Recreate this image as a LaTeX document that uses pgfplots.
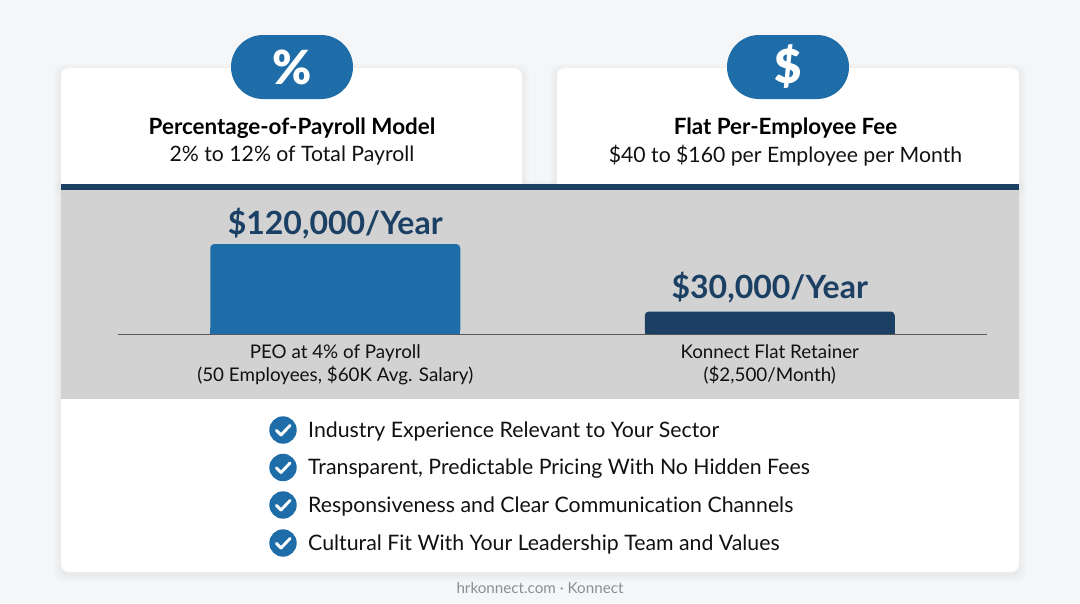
\documentclass[border=0pt]{standalone}
\usepackage{fontspec}
\setmainfont{Lato}[Ligatures=NoCommon]
\usepackage{pgfplots}
\pgfplotsset{compat=1.18}
\definecolor{bgc}{HTML}{F5F6F7}
\definecolor{bandc}{HTML}{D2D2D3}
\definecolor{navy}{HTML}{1B4063}
\definecolor{blue1}{HTML}{1F6DA8}
\definecolor{ink}{HTML}{111111}
\definecolor{foot}{HTML}{8A8E92}
\newcommand{\fs}[1]{\fontsize{#1pt}{#1pt}\selectfont}
\newcommand{\softshadow}[5]{%
  \foreach \g in {7,5,3,1}{\fill[black,opacity=0.012,rounded corners=#5pt] (#1-\g,#2-\g+3) rectangle (#3+\g,#4+\g+3);}}
\newcommand{\checkitem}[2]{%
  \fill[blue1] (283,#1) circle (13.7);
  \draw[white,line width=2.9pt,line cap=round,line join=round] (276.5,#1+0.5) -- (281,#1+5) -- (290,#1-4.5);
  \node[anchor=west,inner sep=0pt,text=ink,font=\fs{21.3}] at (308,#1+1.5) {#2};}
\begin{document}
\begin{tikzpicture}[x=1pt,y=-1pt]
\path[use as bounding box,fill=bgc] (0,0) rectangle (1080,603);
\softshadow{61}{68}{522}{186}{8}
\softshadow{557}{68}{1019}{186}{8}
\softshadow{61}{184}{1019}{572}{8}
\fill[white,rounded corners=8pt] (61,68) rectangle (522,200);
\fill[white,rounded corners=8pt] (557,68) rectangle (1019,200);
\fill[white,rounded corners=8pt] (61,380) rectangle (1019,572);
\fill[bandc] (61,190) rectangle (1019,399);
\fill[navy] (61,184) rectangle (1019,190);
\fill[blue1,rounded corners=32pt] (231,35) rectangle (353,99);
\fill[blue1,rounded corners=32pt] (727,35) rectangle (849,99);
\node[text=white,font=\fontspec{Lato Black}\fs{47}] at (292,67) {\%};
\node[text=white,font=\fontspec{Lato Black}\fs{47}] at (788,67) {\$};
\node[text=black,font=\bfseries\fs{22.4}] at (292,128) {Percentage-of-Payroll Model};
\node[text=ink,font=\fs{21.2}] at (292,156) {2\% to 12\% of Total Payroll};
\node[text=black,font=\bfseries\fs{22.4}] at (785.5,128) {Flat Per-Employee Fee};
\node[text=ink,font=\fs{21.2}] at (785.5,156) {\$40 to \$160 per Employee per Month};
\checkitem{430}{Industry Experience Relevant to Your Sector}
\checkitem{467.5}{Transparent, Predictable Pricing With No Hidden Fees}
\checkitem{505}{Responsiveness and Clear Communication Channels}
\checkitem{543}{Cultural Fit With Your Leadership Team and Values}
\node[text=foot,font=\fs{15.2}] at (540,588) {hrkonnect.com · Konnect};
\begin{axis}[
  at={(118pt,-334pt)},anchor=south west,
  scale only axis,width=869pt,height=112.5pt,
  xmin=-0.5,xmax=1.5,ymin=0,ymax=150000,
  axis x line=bottom,axis y line=none,
  axis line style={draw=black!65,line width=0.8pt,-},
  xtick={0,1},
  xticklabels={{PEO at 4\% of Payroll\\(50 Employees, \$60K Avg. Salary)},{Konnect Flat Retainer\\(\$2,500/Month)}},
  x tick label style={align=center,font=\fontsize{18.8}{22.5}\selectfont,text=ink,yshift=-7.5pt},
  major tick length=0pt,
  ybar=0pt,bar width=250pt,
  clip=true,
  point meta=rawy,
  nodes near coords={\$\pgfmathprintnumber[fixed,precision=0,1000 sep={,},assume math mode=true]{\pgfplotspointmeta}/Year},
  every node near coord/.style={font=\bfseries\fs{32},text=navy,yshift=1pt},
]
\addplot[ybar,bar width=250pt,draw=none,fill=blue1,rounded corners=4pt,bar shift=0pt] coordinates {(0,120000)};
\addplot[ybar,bar width=250pt,draw=none,fill=navy,rounded corners=4pt,bar shift=0pt,every node near coord/.append style={yshift=3.5pt}] coordinates {(1,30000)};
% squares off the lower corners of the bars, which stand on the baseline
\fill[blue1] ([xshift=-125pt]axis cs:0,0) rectangle ([xshift=125pt,yshift=6pt]axis cs:0,0);
\fill[navy] ([xshift=-125pt]axis cs:1,0) rectangle ([xshift=125pt,yshift=6pt]axis cs:1,0);
\end{axis}
\end{tikzpicture}
\end{document}
